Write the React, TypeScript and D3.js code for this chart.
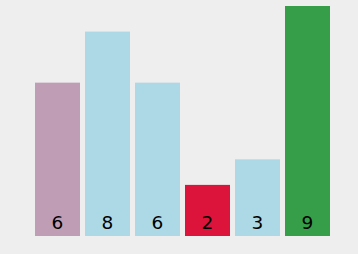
import React from "react";
import * as d3 from "d3";

const categories = ["a", "b", "c", "d", "e", "f"];
const values = [6, 8, 6, 2, 3, 9];
const colors = ["#BF9DB4", "#ADD8E6", "#ADD8E6", "#DC143C", "#ADD8E6", "#369E48"];

const W = 358;
const H = 254;

export default function App() {
  const x = d3.scaleBand<string>().domain(categories).range([35, 330]).paddingInner(0.1).paddingOuter(0);
  const y = d3.scaleLinear().domain([0, 9]).range([236, 6]);
  React.useEffect(() => {
    document.body.style.margin = "0";
  }, []);
  return (
    <svg width={W} height={H} style={{ position: "absolute", left: 0, top: 0, display: "block" }}>
      <rect x={0} y={0} width={W} height={H} fill="#EEEEEE" />
      {categories.map((c, i) => (
        <g key={c}>
          <rect x={x(c)} y={y(values[i])} width={x.bandwidth()} height={y(0) - y(values[i])} fill={colors[i]} />
          <text
            x={(x(c) as number) + x.bandwidth() / 2}
            y={229}
            textAnchor="middle"
            fontFamily="DejaVu Sans"
            fontSize={18.5}
            fill="#000"
          >
            {values[i]}
          </text>
        </g>
      ))}
    </svg>
  );
}
